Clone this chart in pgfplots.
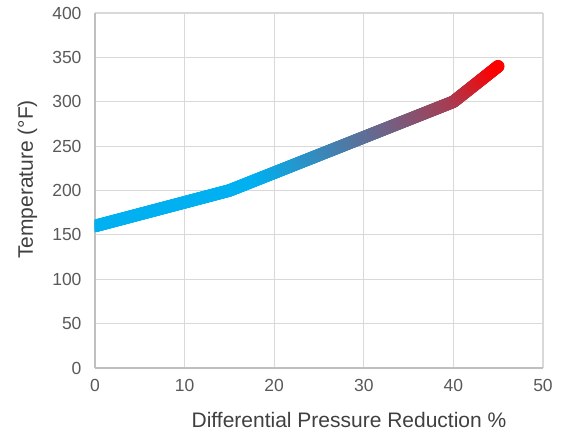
\documentclass[border=0pt]{standalone}
\usepackage{pgfplots}
\pgfplotsset{compat=1.18}
\usepackage{fontspec}
\setmainfont{Liberation Sans}
\usetikzlibrary{decorations.markings}

\definecolor{lineblue}{HTML}{00B0F0}
\definecolor{linered}{HTML}{FF0000}
\definecolor{gridgray}{HTML}{D9D9D9}
\definecolor{axisgray}{HTML}{BFBFBF}
\definecolor{ticktext}{HTML}{595959}
\definecolor{labeltext}{HTML}{404040}

% blue -> red along the line, stops
\newcommand\gradientdot{%
  \pgfmathsetmacro\gpos{\pgfkeysvalueof{/pgf/decoration/mark info/distance from start}/\pgfdecoratedpathlength}%
  \pgfmathsetmacro\gmix{100*(\gpos<0.39 ? 0 : (\gpos<0.869 ? 0.65*(\gpos-0.39)/0.479 : 0.65+0.35*(\gpos-0.869)/0.131))}%
  \fill[linered!\gmix!lineblue] (0,0) circle (6.3bp);}
\tikzset{
  gradient line/.style={
    postaction={decorate, decoration={markings,
      mark=between positions 0 and 1 step 0.7bp with {\gradientdot},
      mark=at position 0.9999 with {\gradientdot}}}}}

\begin{document}
\begin{tikzpicture}
\useasboundingbox (-95bp,-65bp) rectangle (476bp,368bp);
\begin{axis}[
  at={(0,0)}, anchor=south west,
  scale only axis, width=448bp, height=355bp,
  xmin=0, xmax=50, ymin=0, ymax=400,
  xtick={0,10,...,50}, ytick={0,50,...,400},
  axis x line*=bottom, axis y line*=left,
  axis line style={-, draw=axisgray, line width=1.2bp},
  grid=major, major grid style={draw=gridgray, line width=1.2bp},
  tick style={draw=none},
  ticklabel style={font=\fontsize{17.5bp}{20bp}\selectfont, text=ticktext},
  xticklabel style={yshift=-8bp},
  yticklabel style={xshift=-10bp},
  /pgf/number format/assume math mode=true,
  xlabel={Differential Pressure Reduction \%},
  ylabel={Temperature (°F)},
  label style={font=\fontsize{21bp}{24bp}\selectfont, text=labeltext},
  xlabel style={at={(axis description cs:0.567,-0.169)}, anchor=base},
  ylabel style={at={(axis description cs:-0.1384,0.531)}, anchor=base},
]
\addplot[draw=none, no markers, gradient line] coordinates {
  (0,160) (15,200) (40,300) (45,340)
};
\end{axis}
\end{tikzpicture}
\end{document}
